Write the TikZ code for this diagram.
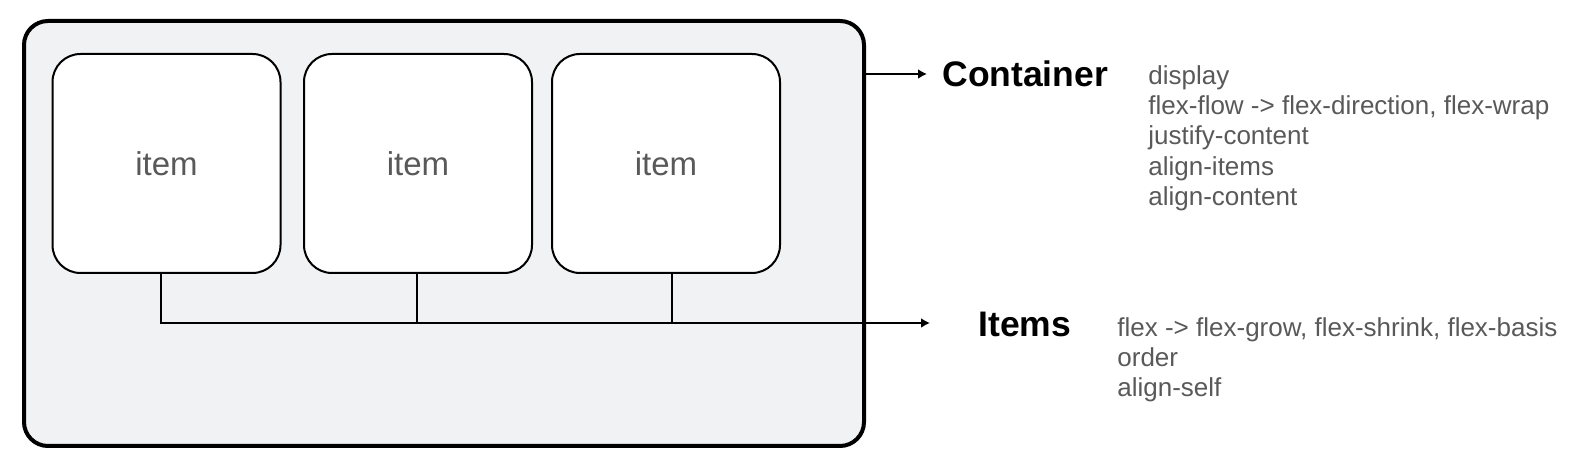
\documentclass[tikz,border=0pt]{standalone}
\usepackage{fontspec}
\setmainfont{Liberation Sans}
\usetikzlibrary{arrows.meta}
\definecolor{boxgray}{HTML}{F1F2F3}
\definecolor{textgray}{HTML}{595959}

\begin{document}
\begin{tikzpicture}[x=0.5pt,y=-0.5pt,
    itembox/.style={draw,line width=1pt,rounded corners=14pt,fill=white,
        minimum width=114pt,minimum height=109.5pt,
        font=\fontsize{16.5}{18}\selectfont,text=textgray},
    conn/.style={line width=1pt},
    arr/.style={conn,-{Latex[length=4.5pt,width=5pt]}},
    title/.style={font=\fontsize{17.75}{20}\selectfont\bfseries,anchor=base west,inner sep=0pt},
    props/.style={font=\fontsize{13}{15.15}\selectfont,text=textgray,align=left,
        anchor=north west,inner sep=0pt}]
    \useasboundingbox (0,0) rectangle (1586,458);

    % the flex container
    \node[draw,line width=2pt,rounded corners=12pt,fill=boxgray,
        minimum width=420pt,minimum height=212.5pt] (flexbox) at (444,233.5) {};
    % the items
    \node[itembox] (item1) at (166.5,163.5) {item};
    \node[itembox] (item2) at (418,163.5) {item};
    \node[itembox] (item3) at (666,163.5) {item};

    \coordinate (conttip) at (927,74);
    \coordinate (itemtip) at (930,323);

    \draw[arr] (conttip -| flexbox.east) -- (conttip);
    \draw[arr] ([xshift=-2.75pt]item1.south) |- (itemtip);
    \draw[conn] ([xshift=-0.5pt]item2.south) -- ([xshift=-0.5pt]item2.south |- itemtip);
    \draw[conn] ([xshift=3pt]item3.south) -- ([xshift=3pt]item3.south |- itemtip);

    \node[title] (container) at (942,87) {Container};
    \node[title] (items) at (978,337) {Items};

    \node[props] (contprops) at (1148,65) {display\\flex-flow -> flex-direction, flex-wrap\\justify-content\\align-items\\align-content};
    \node[props] (itemprops) at (1117,317) {flex -> flex-grow, flex-shrink, flex-basis\\order\\align-self};
\end{tikzpicture}
\end{document}
